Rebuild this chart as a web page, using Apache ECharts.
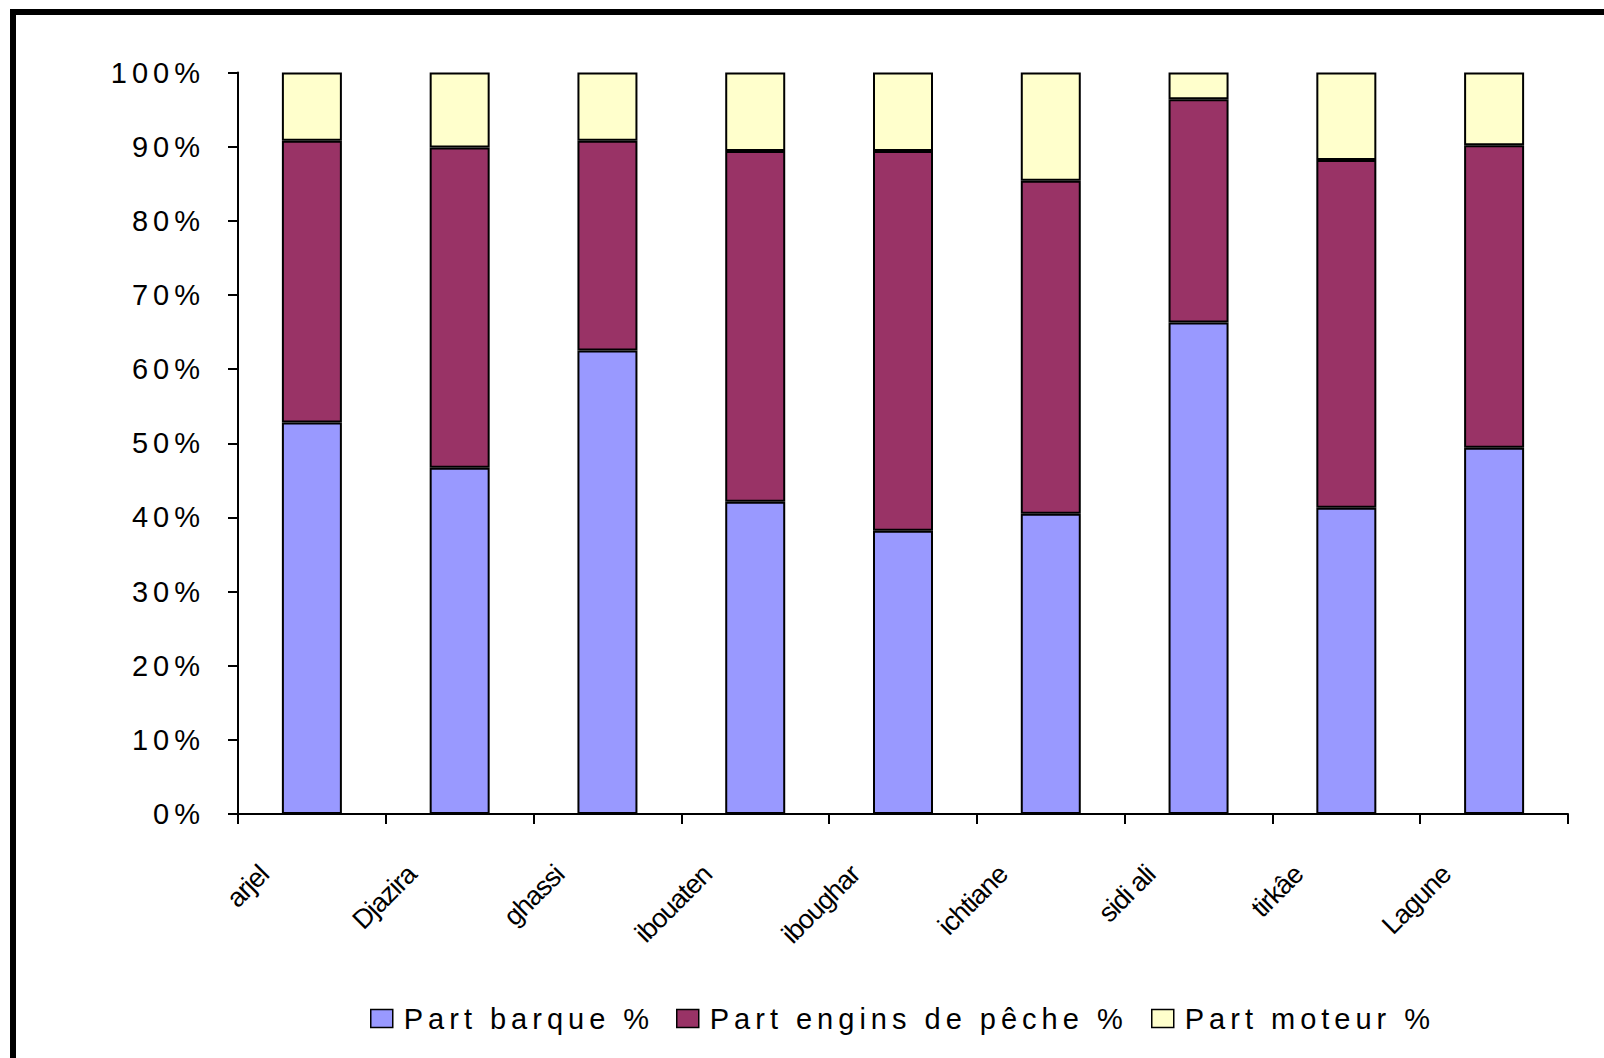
<!DOCTYPE html>
<html>
<head>
<meta charset="utf-8">
<script src="https://cdn.jsdelivr.net/npm/echarts@6/dist/echarts.min.js"></script>
<style>
  html, body { margin: 0; padding: 0; background: #ffffff; }
  #chart { width: 1604px; height: 1058px; }
</style>
</head>
<body>
<div id="chart"></div>
<script>
// Sites (x axis categories)
const categories = ['arjel', 'Djazira', 'ghassi', 'ibouaten', 'iboughar', 'ichtiane', 'sidi ali', 'tirkâe', 'Lagune'];

// Share of each cost item per site, in %
const partBarque = [52.8, 46.7, 62.5, 42.1, 38.2, 40.5, 66.3, 41.3, 49.4];
const partEngins = [38.0, 43.2, 28.3, 47.3, 51.2, 44.9, 30.1, 46.9, 40.8];
const partMoteur = [9.2, 10.1, 9.2, 10.6, 10.6, 14.6, 3.6, 11.8, 9.8];

const seriesNames = ['Part barque %', 'Part engins de pêche %', 'Part moteur %'];
const seriesColors = ['#9999FF', '#993366', '#FFFFCC'];

// Value axis ticks
const yMin = 0;
const yMax = 100;
const yStep = 10;

const FONT = '"Liberation Sans", Arial, sans-serif';
const seriesData = [partBarque, partEngins, partMoteur];
const legendLeft = [370, 676, 1151];

const chart = echarts.init(document.getElementById('chart'), null, { renderer: 'svg' });

const option = {
  backgroundColor: '#ffffff',
  animation: false,
  graphic: [{
    type: 'rect',
    silent: true,
    shape: { x: 13, y: 12, width: 1700, height: 1200 },
    style: { fill: null, stroke: '#000000', lineWidth: 6 }
  }],
  grid: { left: 238, right: 36, top: 72.5, bottom: 244, containLabel: false },
  legend: seriesNames.map((name, i) => ({
    data: [name],
    left: legendLeft[i],
    top: 1004,
    padding: 0,
    icon: 'rect',
    itemWidth: 22,
    itemHeight: 18,
    selectedMode: false,
    itemStyle: { borderColor: '#000000', borderWidth: 1.5 },
    textStyle: { fontFamily: FONT, fontSize: 29, color: '#000000', padding: [8, 0, 0, 6] }
  })),
  xAxis: {
    type: 'category',
    data: categories,
    axisLine: { lineStyle: { color: '#000000', width: 2 } },
    axisTick: { show: true, length: 10, lineStyle: { color: '#000000', width: 2 } },
    axisLabel: {
      interval: 0,
      rotate: 45,
      margin: 8,
      padding: [0, 68, 0, 0],
      fontFamily: FONT,
      fontSize: 27,
      color: '#000000'
    },
    splitLine: { show: false }
  },
  yAxis: {
    type: 'value',
    min: yMin,
    max: yMax,
    interval: yStep,
    axisLine: { show: true, lineStyle: { color: '#000000', width: 2 } },
    axisTick: { show: true, length: 10, lineStyle: { color: '#000000', width: 2 } },
    splitLine: { show: false },
    axisLabel: {
      formatter: '{value}%',
      margin: 33,
      fontFamily: FONT,
      fontSize: 29,
      color: '#000000'
    }
  },
  series: seriesNames.map((name, i) => ({
    name: name,
    type: 'bar',
    stack: 'total',
    barWidth: 60,
    data: seriesData[i],
    itemStyle: { color: seriesColors[i], borderColor: '#000000', borderWidth: 2 },
    emphasis: { disabled: true }
  }))
};

chart.setOption(option);

// Letter spacing: wide on value-axis labels and legend, tight on site names
const spacing = {};
seriesNames.forEach(n => { spacing[n] = '5px'; });
for (let v = yMin; v <= yMax; v += yStep) spacing[v + '%'] = '5px';
categories.forEach(c => { spacing[c] = '-1px'; });
function applyTracking() {
  document.querySelectorAll('#chart text').forEach(t => {
    const s = t.textContent;
    if (spacing[s] !== undefined) t.setAttribute('letter-spacing', spacing[s]);
  });
}
applyTracking();
chart.on('finished', applyTracking);
</script>
</body>
</html>
